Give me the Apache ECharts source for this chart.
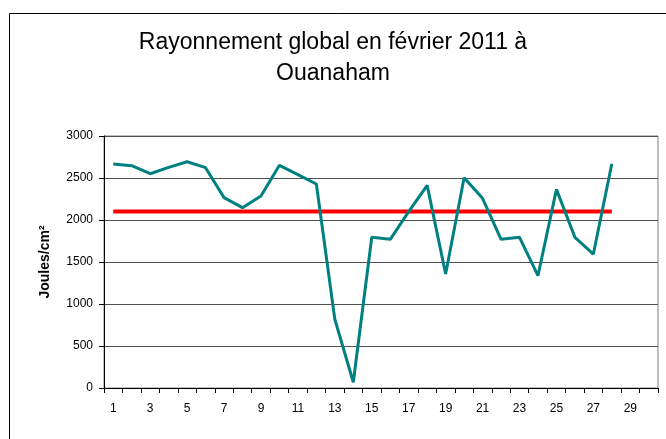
<!DOCTYPE html>
<html>
<head>
<meta charset="utf-8">
<script src="https://cdn.jsdelivr.net/npm/echarts@6/dist/echarts.min.js"></script>
<style>
    html,body{margin:0;padding:0;background:#fff;}
    #chart{width:666px;height:439px;}
</style>
</head>
<body>
<div id="chart"></div>
<script>
    // jours du mois (axe x), 30 catégories
    var days = [];
    for (var d = 1; d <= 30; d++) days.push(String(d));

    // rayonnement global journalier (J/cm²), jours 1 à 28
    var rayonnement = [2667, 2646, 2551, 2627, 2694, 2623, 2266, 2147, 2286, 2651,
                       2540, 2429, 818, 68, 1794, 1770, 2100, 2412, 1357, 2504,
                       2258, 1770, 1794, 1337, 2365, 1794, 1595, 2670];

    // moyenne du mois
    var moyenne = [];
    for (var i = 0; i < rayonnement.length; i++) moyenne.push(2100);

    var yTicks = {min: 0, max: 3000, interval: 500};

    var chart = echarts.init(document.getElementById('chart'));
    var option = {
        animation: false,
        backgroundColor: '#fff',
        textStyle: {fontFamily: 'Liberation Sans, Arial, sans-serif'},
        title: {
            text: 'Rayonnement global en février 2011 à\nOuanaham',
            left: 'center',
            top: 27,
            padding: [0, 0, 0, 12],
            textStyle: {
                fontSize: 23,
                fontWeight: 'normal',
                color: '#000',
                lineHeight: 31,
                fontFamily: 'Liberation Sans, Arial, sans-serif'
            }
        },
        graphic: [{
            type: 'rect',
            left: 7, top: 11,
            shape: {width: 700, height: 460},
            style: {fill: 'none', stroke: '#000', lineWidth: 1},
            silent: true
        }],
        grid: {
            left: 104, top: 136, right: 8, bottom: 51,
            show: true,
            borderColor: '#808080',
            borderWidth: 1
        },
        xAxis: {
            type: 'category',
            data: days,
            boundaryGap: true,
            axisLine: {lineStyle: {color: '#000', width: 1}},
            axisTick: {show: true, length: 5, interval: 0, lineStyle: {color: '#000'}},
            axisLabel: {interval: 1, margin: 15, fontSize: 12, color: '#000'},
            splitLine: {show: false}
        },
        yAxis: {
            type: 'value',
            min: yTicks.min, max: yTicks.max, interval: yTicks.interval,
            name: 'Joules/cm²',
            nameLocation: 'middle',
            nameGap: 52,
            nameTextStyle: {fontSize: 14, fontWeight: 'bold', color: '#000'},
            axisLine: {show: true, lineStyle: {color: '#000', width: 1}},
            axisTick: {show: true, length: 5, lineStyle: {color: '#000'}},
            axisLabel: {
                margin: 11, fontSize: 12, color: '#000',
                formatter: function (v) { return String(v); }
            },
            splitLine: {show: true, lineStyle: {color: '#505050', width: 1}}
        },
        series: [
            {
                name: 'Rayonnement',
                type: 'line',
                data: rayonnement,
                symbol: 'none',
                lineStyle: {color: '#008080', width: 3},
                z: 3
            },
            {
                name: 'Moyenne',
                type: 'line',
                data: moyenne,
                symbol: 'none',
                lineStyle: {color: '#ff0000', width: 4},
                z: 2
            }
        ]
    };
    chart.setOption(option);
    window.addEventListener("resize", chart.resize);
</script>
</body>
</html>
